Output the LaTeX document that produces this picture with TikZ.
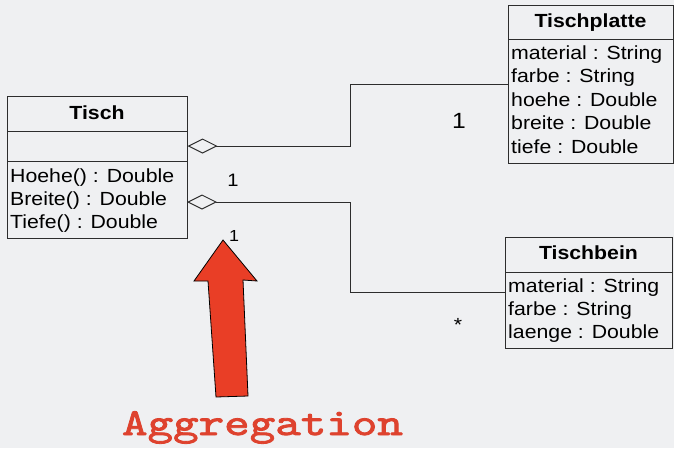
\documentclass[tikz,border=0pt]{standalone}
\usepackage{fontspec}
\setmainfont{Liberation Sans}[FakeStretch=1.12]
\newfontfamily\aggfont{lmmono10-regular.otf}[FakeBold=2.2, FakeStretch=1.28]
\usetikzlibrary{arrows.meta}
\definecolor{bggray}{RGB}{239,240,242}
\definecolor{umlline}{RGB}{45,45,45}
\definecolor{aggred}{RGB}{233,62,38}
\definecolor{aggtext}{RGB}{222,66,46}
\begin{document}
\begin{tikzpicture}[x=1pt, y=-1pt,
    box/.style={draw=umlline, line width=1pt, inner sep=0pt},
    member/.style={anchor=base west, inner sep=0pt, font=\fontsize{19}{23}\selectfont},
    classname/.style={anchor=base, inner sep=0pt, font=\fontsize{19}{23}\selectfont\bfseries},
    mult/.style={anchor=base, inner sep=0pt},
    agg/.style={{Diamond[open, length=30pt, width=15pt, line width=1pt]}-, line width=1pt, draw=umlline}]
  \path[use as bounding box, fill=bggray] (0,0) rectangle (674,448);

  % class Tisch
  \node[box, minimum width=180pt, minimum height=35pt] (tischhead) at (97,113.5) {};
  \node[box, minimum width=180pt, minimum height=30pt] (tischattr) at (97,146) {};
  \node[box, minimum width=180pt, minimum height=77pt] (tischops) at (97,199.5) {};
  \node[classname] (tischname) at (97,119.3) {Tisch};
  \foreach \txt/\ypos/\id in {Hoehe() : Double/182.3/1, Breite() : Double/205.3/2, Tiefe() : Double/228.3/3}
    \node[member] (tischop\id) at (10,\ypos) {\txt};

  % class Tischplatte
  \node[box, minimum width=165pt, minimum height=34pt] (tphead) at (590.5,22) {};
  \node[box, minimum width=165pt, minimum height=124pt] (tpattr) at (590.5,101) {};
  \node[classname] (tpname) at (590.5,27) {Tischplatte};
  \foreach \txt/\ypos/\id in {material : String/59/1, farbe : String/82.5/2, hoehe : Double/106/3,
      breite : Double/129.5/4, tiefe : Double/153/5}
    \node[member] (tpattr\id) at (511,\ypos) {\txt};

  % class Tischbein
  \node[box, minimum width=167pt, minimum height=35pt] (tbhead) at (588.5,254.5) {};
  \node[box, minimum width=167pt, minimum height=76pt] (tbattr) at (588.5,310) {};
  \node[classname] (tbname) at (588.5,259.5) {Tischbein};
  \foreach \txt/\ypos/\id in {material : String/292.5/1, farbe : String/315.5/2, laenge : Double/338.5/3}
    \node[member] (tbattr\id) at (508,\ypos) {\txt};

  % aggregations
  \coordinate (opsjoin) at (187,202);
  \draw[agg] (tischattr.east) -- (350,146) |- (tpattr.west |- 0,84);
  \draw[agg] (opsjoin) -- (350,202) |- (tbattr.west |- 0,292);

  % multiplicities
  \node[mult, font=\fontsize{22}{22}\selectfont] (multtp) at (459,128) {1};
  \node[mult, font=\fontsize{18}{18}\selectfont] (multtischa) at (233,186.5) {1};
  \node[mult, font=\fontsize{16}{16}\selectfont] (multtischb) at (234,241.5) {1};
  \node[mult, font=\fontsize{19}{19}\selectfont] (multtb) at (458,331) {*};

  % hint
  \filldraw[fill=aggred, draw=black, line width=0.8pt] (223,240) -- (257,281) -- (243,280)
    -- (248,396) -- (216,397) -- (208,281) -- (194,281) -- cycle;
  \node[mult, text=aggtext, font=\aggfont\fontsize{38}{38}\selectfont] (aggname) at (262.5,435) {Aggregation};
\end{tikzpicture}
\end{document}
